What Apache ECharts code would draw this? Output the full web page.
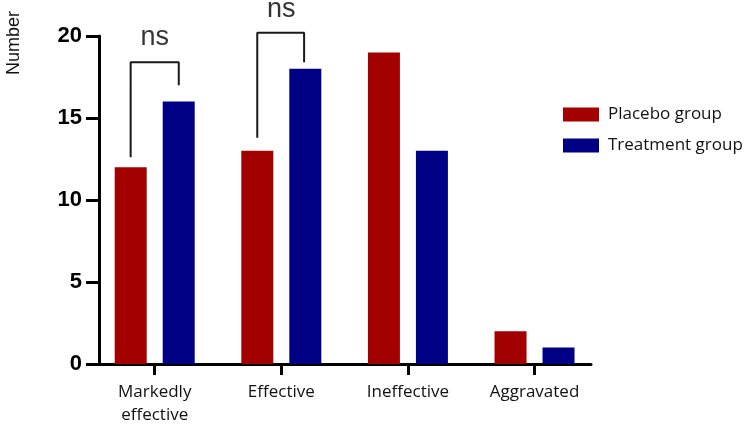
<!DOCTYPE html>
<html>
<head>
<meta charset="utf-8">
<script src="https://cdn.jsdelivr.net/npm/echarts@6/dist/echarts.min.js"></script>
<style>html,body{margin:0;padding:0;background:#fff}#c{width:744px;height:428px}</style>
</head>
<body>
<div id="c"></div>
<script>
const categories = ['Markedly\neffective', 'Effective', 'Ineffective', 'Aggravated'];
const placebo = [12, 13, 19, 2];
const treatment = [16, 18, 13, 1];
const yTicks = [0, 5, 10, 15, 20];
// significance brackets: [x, y] in data units
const bracket1 = [[-0.19, 12.6], [-0.19, 18.4], [0.19, 18.4], [0.19, 17.0]];
const bracket2 = [[0.81, 13.8], [0.81, 20.2], [1.18, 20.2], [1.18, 18.4]];
const sigLabels = [[0, 19.9, 'ns'], [1, 21.6, 'ns']];

const chart = echarts.init(document.getElementById('c'), null, {renderer: 'canvas'});
const catIdx = categories.map((_, i) => i);
const option = {
  animation: false,
  backgroundColor: '#fff',
  grid: {left: 99, right: 153, top: 36, bottom: 64},
  legend: {
    data: ['Placebo group', 'Treatment group'],
    orient: 'vertical', left: 563, top: 106, padding: 0,
    icon: 'rect', itemWidth: 36, itemHeight: 14, itemGap: 14,
    textStyle: {fontSize: 17, lineHeight: 16, color: '#111', fontFamily: 'Open Sans', padding: [0, 0, 0, 4]}
  },
  graphic: [{
    type: 'text', x: 14, y: 43, rotation: Math.PI / 2,
    style: {text: 'Number', fontSize: 18, fontFamily: 'Liberation Sans', fill: '#111', align: 'center', verticalAlign: 'middle'}
  }],
  xAxis: {
    type: 'value', min: -0.44, max: 3.446,
    axisLine: {show: true, onZero: false, lineStyle: {color: '#000', width: 3}},
    axisTick: {show: true, customValues: catIdx, length: 11, lineStyle: {color: '#000', width: 3}},
    axisLabel: {customValues: catIdx, formatter: v => categories[Math.round(v)], fontSize: 17, lineHeight: 23, color: '#111', fontFamily: 'Open Sans', margin: 17},
    splitLine: {show: false}
  },
  yAxis: {
    type: 'value', min: 0, max: 20, interval: 5,
    axisLine: {show: true, onZero: false, lineStyle: {color: '#000', width: 3}},
    axisTick: {show: true, length: 13, lineStyle: {color: '#000', width: 3}},
    axisLabel: {fontSize: 22, fontWeight: 'bold', color: '#000', fontFamily: 'Liberation Sans', margin: 17,
      customValues: yTicks},
    splitLine: {show: false}
  },
  series: [
    {name: 'Placebo group', type: 'bar', data: placebo.map((v, i) => [i, v]), barWidth: 32, barGap: '50%', itemStyle: {color: '#A30000'}},
    {name: 'Treatment group', type: 'bar', data: treatment.map((v, i) => [i, v]), barWidth: 32, barGap: '50%', itemStyle: {color: '#000084'}},
    {type: 'line', data: bracket1, symbol: 'none', clip: false, lineStyle: {color: '#1a1a1a', width: 2}, silent: true, z: 5},
    {type: 'line', data: bracket2, symbol: 'none', clip: false, lineStyle: {color: '#1a1a1a', width: 2}, silent: true, z: 5},
    {type: 'scatter', data: sigLabels.map(d => [d[0], d[1]]), symbolSize: 1, clip: false, itemStyle: {color: 'rgba(0,0,0,0)'}, silent: true,
      label: {show: true, position: 'inside', formatter: p => sigLabels[p.dataIndex][2], fontSize: 27, color: '#000', fontFamily: 'Liberation Sans'}}
  ]
};
chart.setOption(option);
</script>
</body>
</html>
